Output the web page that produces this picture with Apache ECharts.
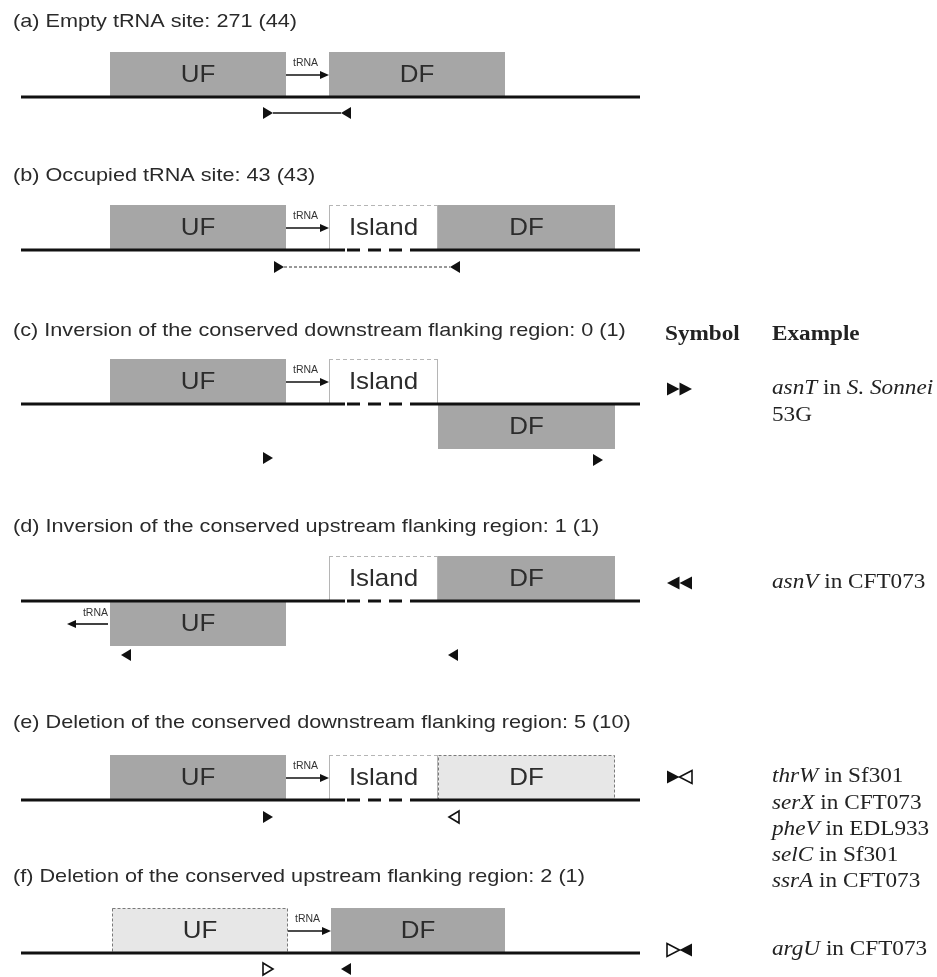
<!DOCTYPE html>
<html><head><meta charset="utf-8">
<script src="https://cdn.jsdelivr.net/npm/echarts@6/dist/echarts.min.js"></script>
<style>html,body{margin:0;padding:0;background:#fff}#main{width:937px;height:977px}</style>
</head><body><div id="main"></div>
<script>
// ---------------- DATA (diagram units on hidden value axes) ----------------
const panelTitles = [
  '(a) Empty tRNA site: 271 (44)',
  '(b) Occupied tRNA site: 43 (43)',
  '(c) Inversion of the conserved downstream flanking region: 0 (1)',
  '(d) Inversion of the conserved upstream flanking region: 1 (1)',
  '(e) Deletion of the conserved downstream flanking region: 5 (10)',
  '(f) Deletion of the conserved upstream flanking region: 2 (1)'
];
const titleLevel = [22, 176, 331, 527, 723, 877];
const trackLevel = [97, 250, 404, 601, 800, 953];
const trackSpan = [21, 640];
// [panel, start, end, label, state, strand (1 above / -1 below)]
const regions = [
  [0, 110, 286, 'UF', 'present', 1], [0, 329, 505, 'DF', 'present', 1],
  [1, 110, 286, 'UF', 'present', 1], [1, 329, 438, 'Island', 'island', 1], [1, 438, 615, 'DF', 'present', 1],
  [2, 110, 286, 'UF', 'present', 1], [2, 329, 438, 'Island', 'island', 1], [2, 438, 615, 'DF', 'present', -1],
  [3, 110, 286, 'UF', 'present', -1], [3, 329, 438, 'Island', 'island', 1], [3, 438, 615, 'DF', 'present', 1],
  [4, 110, 286, 'UF', 'present', 1], [4, 329, 438, 'Island', 'island', 1], [4, 438, 615, 'DF', 'deleted', 1],
  [5, 112, 288, 'UF', 'deleted', 1], [5, 331, 505, 'DF', 'present', 1]
];
// [panel, from, to, side]
const trnaGenes = [[0, 286, 329, 1], [1, 286, 329, 1], [2, 286, 329, 1], [3, 108, 67, -1], [4, 286, 329, 1], [5, 288, 331, 1]];
// [panel, x, direction, filled, depth below track]
const primers = [
  [0, 268, 'r', 1, 16], [0, 346, 'l', 1, 16],
  [1, 279, 'r', 1, 17], [1, 455, 'l', 1, 17],
  [2, 268, 'r', 1, 54], [2, 598, 'r', 1, 56],
  [3, 126, 'l', 1, 54], [3, 453, 'l', 1, 54],
  [4, 268, 'r', 1, 17], [4, 454, 'l', 0, 17],
  [5, 268, 'r', 0, 16], [5, 346, 'l', 1, 16]
];
// [panel, x1, x2, depth, kind]
const amplicons = [[0, 268, 346, 16, 'solid'], [1, 279, 455, 17, 'dotted']];
const tableHeader = ['Symbol', 'Example'];
const exampleLevel = [389, 583, 777, 950];
const exampleSymbols = [
  [['r', 1], ['r', 1]],
  [['l', 1], ['l', 1]],
  [['r', 1], ['l', 0]],
  [['r', 0], ['l', 1]]
];
const exampleLines = [
  ['{i|asnT} in {i|S. Sonnei}', '53G'],
  ['{i|asnV} in CFT073'],
  ['{i|thrW} in Sf301', '{i|serX} in CFT073', '{i|pheV} in EDL933', '{i|selC} in Sf301', '{i|ssrA} in CFT073'],
  ['{i|argU} in CFT073']
];

// ---------------- LAYOUT / STYLE ----------------
const SANS = "'Liberation Sans', Arial, Helvetica, sans-serif";
const SERIF = "'Liberation Serif', 'Times New Roman', Times, serif";
const BOX_H = 45, ISL_DASH_IN = 18, ISL_DASH_OUT = 15;
const SYM_X = 667, SYM_W = 12.5, SYM_H = 13, EX_X = 772, HEAD_Y = 335, HEAD_SYM_X = 665, LINE_GAP = 26.3;
const GRAY = '#a6a6a6', LIGHT = '#e7e7e7', INK = '#111111', TEXT = '#2a2a2a';

function txt(pt, text, o) {
  const st = {
    text: text, fill: o.fill || TEXT, fontSize: o.size, fontFamily: o.family || SANS,
    fontWeight: o.weight || 'normal', textAlign: o.align || 'left', align: o.align || 'left',
    textVerticalAlign: 'middle', verticalAlign: 'middle'
  };
  if (o.rich) st.rich = o.rich;
  return { type: 'text', x: pt[0], y: pt[1], scaleX: o.scaleX || 1.14, style: st };
}
function seg(a, b, style) {
  return { type: 'line', shape: { x1: a[0], y1: a[1], x2: b[0], y2: b[1] }, style: style };
}
function tri(api, cx, cy, dir, filled, w, h) {
  const c = api.coord([cx, cy]);
  const s = api.size([w, h]);
  const hw = Math.abs(s[0]) / 2, hh = Math.abs(s[1]) / 2;
  const pts = dir === 'r'
    ? [[c[0] - hw, c[1] - hh], [c[0] + hw, c[1]], [c[0] - hw, c[1] + hh]]
    : [[c[0] + hw, c[1] - hh], [c[0] - hw, c[1]], [c[0] + hw, c[1] + hh]];
  return {
    type: 'polygon', shape: { points: pts },
    style: filled ? { fill: INK } : { fill: '#fff', stroke: INK, lineWidth: 1.6 }
  };
}

const base = {
  type: 'custom', coordinateSystem: 'cartesian2d', silent: true, animation: false,
  encode: { x: 0, y: 1 }, clip: false
};

const option = {
  animation: false,
  backgroundColor: '#ffffff',
  grid: { left: 0, right: 0, top: 0, bottom: 0 },
  xAxis: { type: 'value', min: 0, max: 937, show: false },
  yAxis: { type: 'value', min: 0, max: 977, inverse: true, show: false },
  series: [
    // flanking regions and islands
    Object.assign({}, base, {
      data: regions.map(r => [r[1], trackLevel[r[0]]]),
      renderItem: function (params, api) {
        const r = regions[params.dataIndex];
        const y = trackLevel[r[0]];
        const top = r[5] > 0 ? y - BOX_H : y;
        const p1 = api.coord([r[1], top]);
        const p2 = api.coord([r[2], top + BOX_H]);
        const w = p2[0] - p1[0], h = p2[1] - p1[1];
        const kids = [];
        if (r[4] === 'present') {
          kids.push({ type: 'rect', shape: { x: p1[0], y: p1[1], width: w, height: h }, style: { fill: GRAY } });
        } else if (r[4] === 'deleted') {
          kids.push({ type: 'rect', shape: { x: p1[0] + 0.5, y: p1[1] + 0.5, width: w - 1, height: h - 1 },
            style: { fill: LIGHT, stroke: '#7a7a7a', lineWidth: 1, lineDash: [3, 2] } });
        } else {
          kids.push({ type: 'rect', shape: { x: p1[0], y: p1[1], width: w, height: h }, style: { fill: '#fff' } });
          const sty = { stroke: '#b5b5b5', lineWidth: 1 };
          kids.push(seg([p1[0] + 0.5, p1[1]], [p1[0] + 0.5, p2[1]], sty));
          kids.push(seg([p2[0] - 0.5, p1[1]], [p2[0] - 0.5, p2[1]], sty));
          kids.push(seg([p1[0], p1[1] + 0.5], [p2[0], p1[1] + 0.5], { stroke: '#b5b5b5', lineWidth: 1, lineDash: [4, 3] }));
        }
        kids.push(txt([(p1[0] + p2[0]) / 2, (p1[1] + p2[1]) / 2 + 1], r[3], { size: 24, align: 'center', scaleX: 1.08, fill: '#2c2c2c' }));
        return { type: 'group', children: kids };
      }
    }),
    // chromosome baselines
    Object.assign({}, base, {
      data: trackLevel.map(y => [trackSpan[0], y]),
      renderItem: function (params, api) {
        const p = params.dataIndex, y = trackLevel[p];
        const sty = { stroke: INK, lineWidth: 3 };
        const a = api.coord([trackSpan[0], y]), b = api.coord([trackSpan[1], y]);
        const isl = regions.find(r => r[0] === p && r[4] === 'island');
        const kids = [];
        if (!isl) {
          kids.push(seg(a, b, sty));
        } else {
          const s1 = api.coord([isl[1] + ISL_DASH_IN - 2, y]);
          const s2 = api.coord([isl[1] + ISL_DASH_IN, y]);
          const e1 = api.coord([isl[2] - ISL_DASH_OUT, y]);
          kids.push(seg(a, s1, sty));
          kids.push(seg(s2, e1, { stroke: INK, lineWidth: 3, lineDash: [13, 8] }));
          kids.push(seg(e1, b, sty));
        }
        return { type: 'group', children: kids };
      }
    }),
    // tRNA genes
    Object.assign({}, base, {
      data: trnaGenes.map(t => [t[1], trackLevel[t[0]]]),
      renderItem: function (params, api) {
        const t = trnaGenes[params.dataIndex];
        const y = trackLevel[t[0]] + (t[3] > 0 ? -22 : 23);
        const a = api.coord([t[1], y]), b = api.coord([t[2], y]);
        const dir = b[0] > a[0] ? 1 : -1;
        const hl = 9, hw = 4;
        const kids = [
          seg(a, [b[0] - dir * hl, b[1]], { stroke: INK, lineWidth: 1.6 }),
          { type: 'polygon', shape: { points: [[b[0], b[1]], [b[0] - dir * hl, b[1] - hw], [b[0] - dir * hl, b[1] + hw]] }, style: { fill: INK } }
        ];
        const lp = dir > 0 ? [a[0] + 7, a[1] - 12] : [a[0], a[1] - 11];
        kids.push(txt(lp, 'tRNA', { size: 10, align: dir > 0 ? 'left' : 'right', scaleX: 1.05, fill: '#333' }));
        return { type: 'group', children: kids };
      }
    }),
    // PCR amplicon connectors
    Object.assign({}, base, {
      data: amplicons.map(m => [m[1], trackLevel[m[0]]]),
      renderItem: function (params, api) {
        const m = amplicons[params.dataIndex];
        const y = trackLevel[m[0]] + m[3];
        const a = api.coord([m[1] + 5, y]), b = api.coord([m[2] - 5, y]);
        const st = m[4] === 'solid' ? { stroke: INK, lineWidth: 1.6 } : { stroke: '#333', lineWidth: 1, lineDash: [3, 2] };
        return seg(a, b, st);
      }
    }),
    // primer triangles
    Object.assign({}, base, {
      data: primers.map(m => [m[1], trackLevel[m[0]] + m[4]]),
      renderItem: function (params, api) {
        const m = primers[params.dataIndex];
        return tri(api, m[1], trackLevel[m[0]] + m[4], m[2], m[3], 10, 12);
      }
    }),
    // panel titles
    Object.assign({}, base, {
      data: titleLevel.map(y => [13, y]),
      renderItem: function (params, api) {
        const i = params.dataIndex;
        return txt(api.coord([13, titleLevel[i]]), panelTitles[i], { size: 19, scaleX: 1.14 });
      }
    }),
    // table header
    Object.assign({}, base, {
      data: tableHeader.map((h, i) => [i === 0 ? HEAD_SYM_X : EX_X, HEAD_Y]),
      renderItem: function (params, api) {
        const i = params.dataIndex;
        const x = i === 0 ? HEAD_SYM_X : EX_X;
        return txt(api.coord([x, HEAD_Y]), tableHeader[i], { size: 20, family: SERIF, weight: 'bold', scaleX: 1.16, fill: '#222' });
      }
    }),
    // table symbols
    Object.assign({}, base, {
      data: exampleLevel.map(y => [SYM_X, y]),
      renderItem: function (params, api) {
        const i = params.dataIndex;
        const kids = exampleSymbols[i].map((s, k) =>
          tri(api, SYM_X + SYM_W / 2 + k * SYM_W, exampleLevel[i], s[0], s[1], SYM_W, SYM_H));
        return { type: 'group', children: kids };
      }
    }),
    // table examples
    Object.assign({}, base, {
      data: exampleLevel.map(y => [EX_X, y]),
      renderItem: function (params, api) {
        const i = params.dataIndex;
        const rich = { i: { fontStyle: 'italic', fontFamily: SERIF, fontSize: 20, fill: '#222' } };
        const kids = exampleLines[i].map((line, k) =>
          txt(api.coord([EX_X, exampleLevel[i] + k * LINE_GAP]), line, { size: 20, family: SERIF, scaleX: 1.16, fill: '#222', rich: rich }));
        return { type: 'group', children: kids };
      }
    })
  ]
};

const chart = echarts.init(document.getElementById('main'), null, { renderer: 'canvas', width: 937, height: 977 });
chart.setOption(option);
</script>
</body></html>
